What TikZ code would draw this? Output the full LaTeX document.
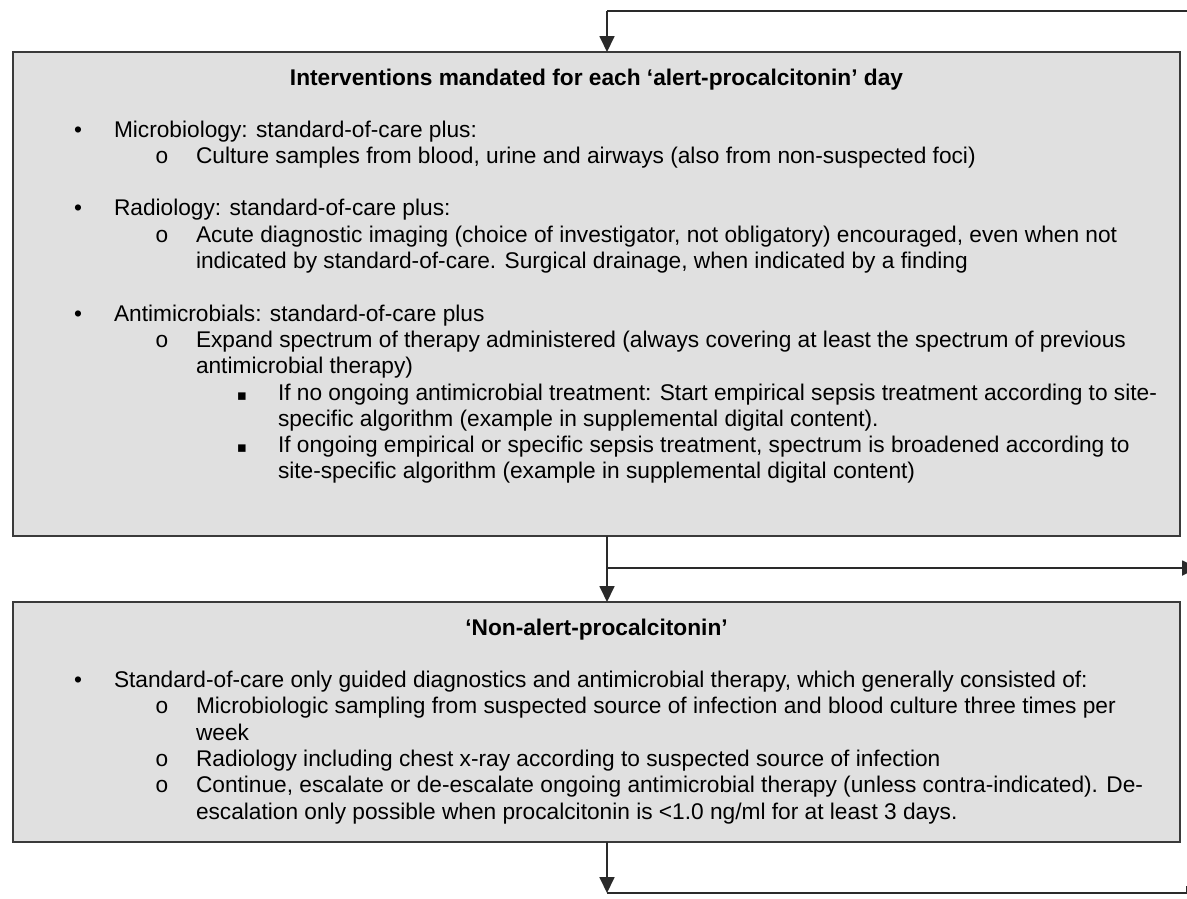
\documentclass[tikz,border=0pt]{standalone}
\usepackage{fontspec}
\setmainfont{Liberation Sans}
\newfontfamily\monofnt{Liberation Mono}
\newfontfamily\symfnt{DejaVu Sans}
\usetikzlibrary{arrows.meta}
\definecolor{boxfill}{HTML}{E0E0E0}
\definecolor{boxline}{HTML}{3A3A3A}
\definecolor{connline}{HTML}{2A2A2A}
\tikzset{
  every node/.style={inner sep=0pt, outer sep=0pt, font=\fontsize{22.7}{26.3}\selectfont, text=black},
  panel/.style={draw=boxline, line width=1.8pt, fill=boxfill, rectangle, minimum width=1167pt},
  txt/.style={anchor=base west},
  ttl/.style={anchor=base, font=\fontsize{22.7}{26.3}\selectfont\bfseries},
  bul/.style={anchor=base},
  sq/.style={anchor=base, font=\fontsize{15}{18}\selectfont\symfnt},
  conn/.style={draw=connline, line width=1.8pt},
  arr/.style={conn, -{Triangle[width=15pt,length=16pt]}},
}
\begin{document}
\begin{tikzpicture}[x=1pt,y=-1pt]
\useasboundingbox (0,0) rectangle (1187,898);
% boxes
\node[panel, minimum height=484pt] (box1) at (596.5,294) {};
\node[panel, minimum height=240pt] (box2) at (596.5,722) {};
% connectors
\coordinate (topR) at (1190,11);
\coordinate (c1) at (607,11);
\coordinate (j1) at (607,568);
\coordinate (midR) at (1198,568);
\coordinate (botL) at (607,893);
\coordinate (botR) at (1186.5,893);
\coordinate (botT) at (1186.5,886);
\draw[conn] (topR) -- (c1);
\draw[arr] (c1) -- (c1 |- box1.north);
\draw[arr] (c1 |- box1.south) -- (c1 |- box2.north);
\draw[arr] (j1) -- (midR);
\draw[arr] (c1 |- box2.south) -- (botL);
\draw[conn] (botL) -- (botR) -- (botT);
% box 1 text
\node[ttl] (title1) at (596.5,85) {Interventions mandated for each ‘alert-procalcitonin’ day};
\node[bul] (b1) at (78,137) {•};
\node[txt] (t1) at (114,137) {Microbiology: standard-of-care plus:};
\node[bul] (o1) at (162,163.3) {\monofnt o};
\node[txt] (t2) at (196,163.3) {Culture samples from blood, urine and airways (also from non-suspected foci)};
\node[bul] (b2) at (78,215.9) {•};
\node[txt] (t3) at (114,215.9) {Radiology: standard-of-care plus:};
\node[bul] (o2) at (162,242.2) {\monofnt o};
\node[txt] (t4) at (196,242.2) {Acute diagnostic imaging (choice of investigator, not obligatory) encouraged, even when not};
\node[txt] (t5) at (196,268.5) {indicated by standard-of-care. Surgical drainage, when indicated by a finding};
\node[bul] (b3) at (78,321.1) {•};
\node[txt] (t6) at (114,321.1) {Antimicrobials: standard-of-care plus};
\node[bul] (o3) at (162,347.4) {\monofnt o};
\node[txt] (t7) at (196,347.4) {Expand spectrum of therapy administered (always covering at least the spectrum of previous};
\node[txt] (t8) at (196,373.7) {antimicrobial therapy)};
\node[sq] (s1) at (242,400) {▪};
\node[txt] (t9) at (278,400) {If no ongoing antimicrobial treatment: Start empirical sepsis treatment according to site-};
\node[txt] (t10) at (278,426.3) {specific algorithm (example in supplemental digital content).};
\node[sq] (s2) at (242,452.6) {▪};
\node[txt] (t11) at (278,452.6) {If ongoing empirical or specific sepsis treatment, spectrum is broadened according to};
\node[txt] (t12) at (278,478.9) {site-specific algorithm (example in supplemental digital content)};
% box 2 text
\node[ttl] (title2) at (596.5,635) {‘Non-alert-procalcitonin’};
\node[bul] (b4) at (78,687.6) {•};
\node[txt] (u1) at (114,687.6) {Standard-of-care only guided diagnostics and antimicrobial therapy, which generally consisted of:};
\node[bul] (o4) at (162,713.9) {\monofnt o};
\node[txt] (u2) at (196,713.9) {Microbiologic sampling from suspected source of infection and blood culture three times per};
\node[txt] (u3) at (196,740.2) {week};
\node[bul] (o5) at (162,766.5) {\monofnt o};
\node[txt] (u4) at (196,766.5) {Radiology including chest x-ray according to suspected source of infection};
\node[bul] (o6) at (162,792.8) {\monofnt o};
\node[txt] (u5) at (196,792.8) {Continue, escalate or de-escalate ongoing antimicrobial therapy (unless contra-indicated). De-};
\node[txt] (u6) at (196,819.1) {escalation only possible when procalcitonin is <1.0 ng/ml for at least 3 days.};
\end{tikzpicture}
\end{document}
